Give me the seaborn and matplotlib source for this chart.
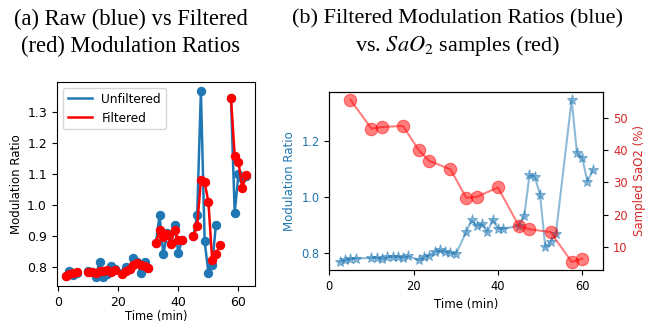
import numpy as np
import pandas as pd
import matplotlib
matplotlib.use("Agg")
import matplotlib.pyplot as plt
from matplotlib.lines import Line2D
import seaborn as sns

# Sample times (min) of the modulation ratio estimates
time_min = [2.5, 3.75, 5.0, 6.25,
            10.0, 11.25, 12.5, 13.75, 15.0, 16.25, 17.5, 18.75,
            21.25, 22.5, 23.75, 25.0, 26.25, 27.5, 28.75, 30.0,
            32.5, 33.75, 35.0, 36.25, 37.5, 38.75, 40.0, 41.25,
            45.0, 46.25, 47.5, 48.75, 50.0, 51.25, 52.5, 53.75,
            57.5, 58.75, 60.0, 61.25, 62.5]

raw_ratio = [0.770, 0.788, 0.775, 0.781,
             0.786, 0.784, 0.768, 0.817, 0.768, 0.776, 0.804, 0.792,
             0.779, 0.800, 0.794, 0.827, 0.815, 0.779, 0.816, 0.797,
             0.877, 0.966, 0.840, 0.909, 0.877, 0.934, 0.845, 0.888,
             0.898, 0.968, 1.368, 0.882, 0.781, 0.807, 0.936, np.nan,
             1.346, 0.975, 1.100, 1.088, 1.095]

filtered_ratio = [0.770, 0.777, 0.779, 0.782,
                  0.784, 0.784, 0.780, 0.788, 0.786, 0.789, 0.784, 0.791,
                  0.776, 0.788, 0.792, 0.806, 0.811, 0.806, 0.802, 0.797,
                  0.877, 0.918, 0.897, 0.906, 0.875, 0.920, 0.888, 0.888,
                  0.898, 0.933, 1.079, 1.073, 1.009, 0.822, 0.840, 0.869,
                  1.346, 1.158, 1.140, 1.055, 1.096]

# Arterial blood gas samples
sao2_time = [5.0, 10.0, 12.5, 17.5, 21.25, 23.75, 28.75, 32.5, 35.0, 40.0,
             45.0, 47.5, 52.5, 57.5, 60.0]
sao2_pct = [55.5, 46.6, 47.1, 47.4, 39.9, 36.6, 34.0, 25.2, 25.5, 28.4,
            16.5, 15.5, 14.6, 5.4, 6.4]

BLUE = "#1f77b4"
RED = "red"

df = pd.DataFrame({"time": time_min, "raw": raw_ratio, "filtered": filtered_ratio})
# recording segments are separated by gaps of more than ~2 min
df["segment"] = (df["time"].diff() > 2).cumsum()

plt.rcParams["mathtext.fontset"] = "stix"

fig = plt.figure(figsize=(6.57, 3.24), dpi=100)
ax1 = fig.add_axes([0.0863, 0.1172, 0.3018, 0.6306])
ax2 = fig.add_axes([0.5012, 0.1667, 0.4170, 0.5503])

# (a) raw vs filtered
raw_df = df.dropna(subset=["raw"])
sns.lineplot(data=raw_df, x="time", y="raw", units="segment", estimator=None,
             color=BLUE, marker="o", markersize=6, markeredgecolor=BLUE,
             linewidth=1.8, ax=ax1)
sns.lineplot(data=df, x="time", y="filtered", units="segment", estimator=None,
             color=RED, marker="o", markersize=6, markeredgecolor=RED,
             linewidth=1.8, ax=ax1)
ax1.set_xlabel("Time (min)", fontsize=8.3, labelpad=1)
ax1.set_ylabel("Modulation Ratio", fontsize=8.5, labelpad=3)
ax1.tick_params(labelsize=9)
ax1.set_xticks([0, 20, 40, 60])
ax1.set_yticks([0.8, 0.9, 1.0, 1.1, 1.2, 1.3])
handles = [Line2D([], [], color=BLUE, lw=1.8), Line2D([], [], color=RED, lw=1.8)]
ax1.legend(handles, ["Unfiltered", "Filtered"], loc="upper left", fontsize=8.7)

# (b) filtered vs SaO2 samples
sns.lineplot(data=df, x="time", y="filtered", color=BLUE, marker="*",
             markersize=8, markeredgecolor=BLUE, alpha=0.5, linewidth=1.5, ax=ax2)
ax2.set_xlim(0, 65)
ax2.set_xticks([0, 20, 40, 60])
ax2.set_yticks([0.8, 1.0, 1.2])
ax2.set_xlabel("Time (min)", fontsize=8.5)
ax2.set_ylabel("Modulation Ratio", fontsize=8.5, color=BLUE)
ax2.tick_params(labelsize=8.3)
ax2.tick_params(axis="y", labelcolor=BLUE)

ax3 = ax2.twinx()
sns.lineplot(x=sao2_time, y=sao2_pct, color=RED, marker="o", markersize=9,
             markeredgecolor=RED, alpha=0.5, linewidth=1.5, ax=ax3)
ax3.set_ylabel("Sampled SaO2 (%)", fontsize=8.5, color="tab:red")
ax3.tick_params(labelsize=8.3, labelcolor="tab:red")
ax3.set_yticks([10, 20, 30, 40, 50])

fig.text(0.199, 0.972, "(a) Raw (blue) vs Filtered\n(red) Modulation Ratios",
         ha="center", va="top", ma="center", fontsize=16.3,
         family="Liberation Serif", linespacing=1.35)
fig.text(0.697, 0.972, "(b) Filtered Modulation Ratios (blue)\nvs. $SaO_2$ samples (red)",
         ha="center", va="top", ma="center", fontsize=16,
         family="Liberation Serif", linespacing=1.35)

fig.savefig("out.png", dpi=100)
